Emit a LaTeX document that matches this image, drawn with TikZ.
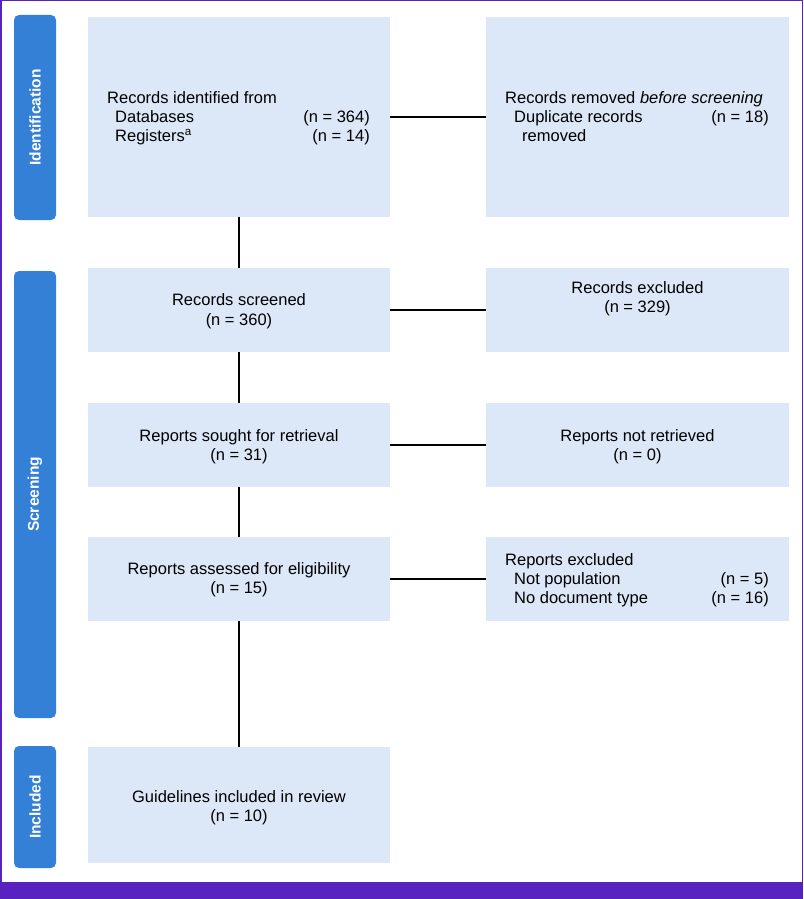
\documentclass[tikz,border=0pt]{standalone}
\usepackage{fontspec}
\setmainfont{Liberation Sans}
\definecolor{purp}{HTML}{5722BF}
\definecolor{tabblue}{HTML}{3380D6}
\definecolor{boxblue}{HTML}{DCE7F8}
\begin{document}
\begin{tikzpicture}[x=1pt,y=-1pt,
  box/.style={fill=boxblue, draw=none, inner sep=0, minimum width=302, minimum height=84},
  rbox/.style={box, minimum width=303},
  tab/.style={fill=tabblue, draw=none, rounded corners=5, inner sep=0, minimum width=42},
  tabtxt/.style={text=white, font=\fontsize{15.5}{18}\bfseries\selectfont, rotate=90, inner sep=0},
  txt/.style={font=\fontsize{16.5}{19}\selectfont, inner sep=0, anchor=base west},
  ctxt/.style={font=\fontsize{16.5}{19}\selectfont, inner sep=0, anchor=base},
  rtxt/.style={font=\fontsize{16.5}{19}\selectfont, inner sep=0, anchor=base east},
  conn/.style={line width=2pt, black}]
\useasboundingbox (0,0) rectangle (803,899);
% frame
\fill[purp] (0,882) rectangle (803,899);
\draw[purp, line width=1.5pt] (0.75,882) -- (0.75,0.75) -- (802.25,0.75) -- (802.25,882);
% tabs
\node[tab, minimum height=205] (tabid) at (35,117.5) {};
\node[tabtxt] (tabidt) at (tabid.center) {Identification};
\node[tab, minimum height=447] (tabsc) at (35,494.5) {};
\node[tabtxt] (tabsct) at (tabsc.center) {Screening};
\node[tab, minimum height=122] (tabin) at (35,807) {};
\node[tabtxt] (tabint) at (tabin.center) {Included};
% boxes
\node[box, minimum height=200] (idL) at (239,117) {};
\node[rbox, minimum height=200] (idR) at (637.5,117) {};
\node[box] (scr) at (239,310) {};
\node[rbox] (exc) at (637.5,310) {};
\node[box] (sou) at (239,445) {};
\node[rbox] (nret) at (637.5,445) {};
\node[box] (ass) at (239,579) {};
\node[rbox] (rexc) at (637.5,579) {};
\node[box, minimum height=116] (inc) at (239,805) {};
% connectors
\draw[conn] (idL.south) -- (scr.north);
\draw[conn] (scr.south) -- (sou.north);
\draw[conn] (sou.south) -- (ass.north);
\draw[conn] (ass.south) -- (inc.north);
\draw[conn] (idL.east) -- (idR.west);
\draw[conn] (scr.east) -- (exc.west);
\draw[conn] (sou.east) -- (nret.west);
\draw[conn] (ass.east) -- (rexc.west);
% texts: identification
\node[txt] (t1) at (107,103.5) {Records identified from};
\node[txt] (t2) at (115,122.5) {Databases};
\node[rtxt] (t3) at (370,122.5) {(n = 364)};
\node[txt] (t4) at (115,141.5) {Registers\textsuperscript{a}};
\node[rtxt] (t5) at (370,141.5) {(n = 14)};
\node[txt] (t6) at (505,103.5) {Records removed \textit{before screening}};
\node[txt] (t7) at (514,122.5) {Duplicate records};
\node[rtxt] (t8) at (769,122.5) {(n = 18)};
\node[txt] (t9) at (522,141.5) {removed};
% screening
\node[ctxt] (s1) at (239,305.5) {Records screened};
\node[ctxt] (s2) at (239,325.5) {(n = 360)};
\node[ctxt] (s3) at (637.5,293.5) {Records excluded};
\node[ctxt] (s4) at (637.5,312.5) {(n = 329)};
\node[ctxt] (s5) at (239,441.5) {Reports sought for retrieval};
\node[ctxt] (s6) at (239,460.5) {(n = 31)};
\node[ctxt] (s7) at (637.5,441.5) {Reports not retrieved};
\node[ctxt] (s8) at (637.5,460.5) {(n = 0)};
\node[ctxt] (s9) at (239,574.5) {Reports assessed for eligibility};
\node[ctxt] (s10) at (239,593.5) {(n = 15)};
\node[txt] (s11) at (505,565.5) {Reports excluded};
\node[txt] (s12) at (514,584.5) {Not population};
\node[rtxt] (s13) at (769,584.5) {(n = 5)};
\node[txt] (s14) at (514,603.5) {No document type};
\node[rtxt] (s15) at (769,603.5) {(n = 16)};
% included
\node[ctxt] (i1) at (239,802.5) {Guidelines included in review};
\node[ctxt] (i2) at (239,821.5) {(n = 10)};
\end{tikzpicture}
\end{document}
